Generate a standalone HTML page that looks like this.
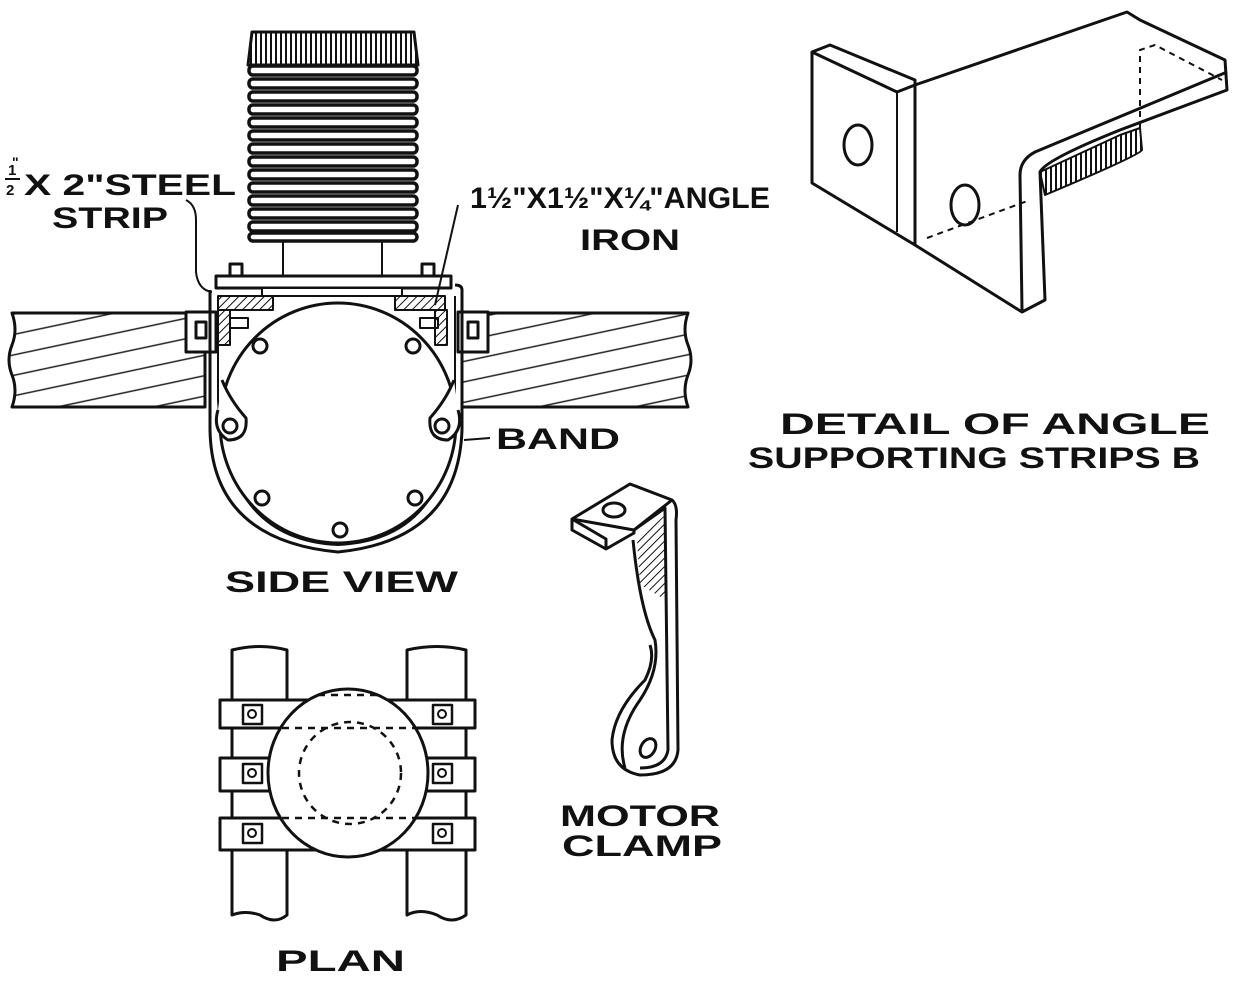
<!DOCTYPE html>
<html><head><meta charset="utf-8"><style>
html,body{margin:0;padding:0;background:#fff}
svg{display:block}
text{font-family:"Liberation Sans",sans-serif;font-weight:bold;fill:#111}
</style></head><body>
<svg width="1243" height="981" viewBox="0 0 1243 981" xmlns="http://www.w3.org/2000/svg">
<defs>
<pattern id="wood" width="40" height="20" patternUnits="userSpaceOnUse" patternTransform="rotate(-12)">
<line x1="0" y1="10" x2="40" y2="10" stroke="#222" stroke-width="1.6"/></pattern>
<pattern id="hatch" width="6" height="6" patternUnits="userSpaceOnUse" patternTransform="rotate(45)">
<line x1="0" y1="0" x2="0" y2="6" stroke="#111" stroke-width="2"/></pattern>
<pattern id="vh" width="5" height="10" patternUnits="userSpaceOnUse">
<line x1="1" y1="0" x2="1" y2="10" stroke="#111" stroke-width="2"/></pattern>
</defs>
<g stroke="#111" stroke-width="3" fill="none" stroke-linejoin="round">
<path d="M12,313 L205,313 L205,407 L12,407 Q18,390 12,375 Q6,360 12,345 Q18,330 12,313Z" fill="url(#wood)"/>
<path d="M462,313 L688,313 Q682,330 688,345 Q694,360 688,375 Q682,390 688,407 L462,407Z" fill="url(#wood)"/>
<rect x="186" y="312" width="30" height="40" fill="#fff"/>
<rect x="196" y="322" width="10" height="16"/>
<rect x="458" y="312" width="30" height="40" fill="#fff"/>
<rect x="468" y="322" width="10" height="16"/>
<path d="M252,32 L414,32 L418,65 L248,65Z" fill="url(#vh)"/>
<g stroke-width="3.5">
<rect x="249" y="66" width="168" height="9" rx="4"/><rect x="249" y="79" width="168" height="9" rx="4"/>
<rect x="249" y="92" width="168" height="9" rx="4"/><rect x="249" y="105" width="168" height="9" rx="4"/>
<rect x="249" y="118" width="168" height="9" rx="4"/><rect x="249" y="131" width="168" height="9" rx="4"/>
<rect x="249" y="144" width="168" height="9" rx="4"/><rect x="249" y="157" width="168" height="9" rx="4"/>
<rect x="249" y="170" width="168" height="9" rx="4"/><rect x="249" y="183" width="168" height="9" rx="4"/>
<rect x="249" y="196" width="168" height="9" rx="4"/><rect x="249" y="209" width="168" height="9" rx="4"/>
<rect x="249" y="222" width="168" height="9" rx="4"/><rect x="249" y="233" width="168" height="8" rx="4"/>
</g>
<line x1="283" y1="241" x2="283" y2="277" stroke-width="2"/>
<line x1="382" y1="241" x2="382" y2="277" stroke-width="2"/>
<rect x="216" y="276" width="235" height="12" fill="#fff"/>
<rect x="230" y="264" width="12" height="12" fill="#fff"/><rect x="422" y="264" width="12" height="12" fill="#fff"/>
<rect x="262" y="288" width="140" height="8" fill="#fff" stroke-width="2"/>
<rect x="218" y="296" width="55" height="14" fill="url(#hatch)" stroke-width="2"/>
<rect x="395" y="296" width="50" height="14" fill="url(#hatch)" stroke-width="2"/>
<rect x="218" y="310" width="12" height="35" fill="url(#hatch)" stroke-width="2"/>
<rect x="435" y="310" width="12" height="35" fill="url(#hatch)" stroke-width="2"/>
<rect x="230" y="318" width="18" height="10" stroke-width="2"/>
<rect x="420" y="318" width="18" height="10" stroke-width="2"/>
<path d="M210,290 L210,430 Q212,540 338,552 Q458,540 462,430 L462,290 Q462,285 455,285" stroke-width="3"/>
<path d="M218,296 L218,400 Q225,540 338,545 Q452,540 455,400 L455,296" stroke-width="2"/>
<ellipse cx="338" cy="423" rx="118" ry="120" fill="#fff"/>
<path d="M218,410 Q212,430 228,440 Q248,440 246,418 Q230,400 222,380" fill="#fff"/>
<circle cx="230" cy="426" r="7"/>
<path d="M458,410 Q464,430 448,440 Q428,440 430,418 Q446,400 454,380" fill="#fff"/>
<circle cx="442" cy="426" r="7"/>
<circle cx="260" cy="346" r="7" fill="#fff"/><circle cx="413" cy="346" r="7" fill="#fff"/>
<circle cx="262" cy="498" r="7" fill="#fff"/><circle cx="415" cy="498" r="7" fill="#fff"/>
<circle cx="340" cy="530" r="7" fill="#fff"/>
<path d="M186,200 Q196,205 196,220 L196,272 Q198,290 212,292" stroke-width="2"/>
<path d="M458,205 L435,305" stroke-width="2"/>
<path d="M464,440 L490,438" stroke-width="2"/>
<path d="M232,650 Q260,643 287,650 L287,915 Q275,925 260,915 Q245,910 232,915Z"/>
<path d="M407,650 Q437,643 466,650 L466,915 Q452,925 437,915 Q420,908 407,915Z"/>
<rect x="220" y="700" width="255" height="28" fill="#fff"/>
<rect x="220" y="758" width="255" height="33" fill="#fff"/>
<rect x="220" y="818" width="255" height="32" fill="#fff"/>
<rect x="243" y="705" width="19" height="19" stroke-width="2.5"/><circle cx="252" cy="714" r="4" stroke-width="2"/>
<rect x="243" y="764" width="19" height="19" stroke-width="2.5"/><circle cx="252" cy="773" r="4" stroke-width="2"/>
<rect x="243" y="824" width="19" height="19" stroke-width="2.5"/><circle cx="252" cy="833" r="4" stroke-width="2"/>
<rect x="433" y="705" width="19" height="19" stroke-width="2.5"/><circle cx="442" cy="714" r="4" stroke-width="2"/>
<rect x="433" y="764" width="19" height="19" stroke-width="2.5"/><circle cx="442" cy="773" r="4" stroke-width="2"/>
<rect x="433" y="824" width="19" height="19" stroke-width="2.5"/><circle cx="442" cy="833" r="4" stroke-width="2"/>
<ellipse cx="348" cy="773" rx="80" ry="84" fill="#fff"/>
<g stroke-dasharray="7,6" stroke-width="2.5">
<circle cx="350" cy="773" r="51"/>
<line x1="282" y1="728" x2="415" y2="728"/><line x1="282" y1="818" x2="415" y2="818"/>
<line x1="318" y1="695" x2="378" y2="695"/>
</g>
<path d="M572,519 L630,484 L672,500 L634,530 Z" fill="#fff"/>
<path d="M572,519 L572,530 L606,549 L634,533 L634,530 M606,549 L606,539 L572,519" fill="none"/>
<ellipse cx="614" cy="510" rx="11" ry="7"/>
<path d="M672,500 Q678,505 676,520 L678,750 Q676,775 640,775 Q612,770 612,740 Q615,710 645,680 Q655,660 650,645"/>
<path d="M634,530 L665,508 L668,750 Q665,768 640,768 M625,768 Q615,735 640,700 Q660,670 655,640 Q640,610 633,540"/>
<path d="M637,540 L665,515 L665,600 Q650,590 640,585Z" fill="url(#hatch)" stroke="none"/>
<ellipse cx="648" cy="748" rx="7" ry="10" transform="rotate(30 648 748)"/>
<path d="M812,52 L830,45 L915,80 L915,245 L812,183Z" fill="#fff"/>
<path d="M812,52 L897,92 L915,85"/>
<path d="M897,92 L897,232" stroke-width="2"/>
<path d="M915,85 L1127,12 L1140,20 L1225,60 L1227,90 L1120,130 Q1045,160 1040,172 L1045,300 L1022,312 L915,245 Z" fill="#fff"/>
<path d="M1227,72 L1035,152 Q1020,160 1020,175 L1022,310"/>
<path d="M1040,172 L1120,135 L1140,128 L1142,150 Q1140,155 1045,195Z" fill="url(#vh)" stroke-width="2"/>
<g stroke-dasharray="6,5" stroke-width="2">
<path d="M1140,128 L1140,50 L1155,45 L1222,80"/>
<path d="M927,238 L1030,200"/>
</g>
<ellipse cx="858" cy="145" rx="14" ry="20" stroke-width="3"/>
<ellipse cx="965" cy="205" rx="14" ry="20" stroke-width="3"/>
</g>
<g font-size="30">
<text x="8" y="175" font-size="15">1</text>
<line x1="5" y1="179" x2="20" y2="179" stroke="#111" stroke-width="2"/>
<text x="6" y="195" font-size="15">2</text>
<text x="12" y="167" font-size="14">"</text>
<text x="24" y="195" textLength="212" lengthAdjust="spacingAndGlyphs">X 2"STEEL</text>
<text x="52" y="228" textLength="116" lengthAdjust="spacingAndGlyphs">STRIP</text>
<text x="470" y="208" textLength="300" lengthAdjust="spacingAndGlyphs">1½"X1½"X¼"ANGLE</text>
<text x="580" y="250" textLength="100" lengthAdjust="spacingAndGlyphs">IRON</text>
<text x="496" y="449" textLength="124" lengthAdjust="spacingAndGlyphs">BAND</text>
<text x="225" y="592" textLength="233" lengthAdjust="spacingAndGlyphs">SIDE VIEW</text>
<text x="276" y="971" textLength="129" lengthAdjust="spacingAndGlyphs">PLAN</text>
<text x="560" y="826" textLength="160" lengthAdjust="spacingAndGlyphs">MOTOR</text>
<text x="562" y="856" textLength="160" lengthAdjust="spacingAndGlyphs">CLAMP</text>
<text x="780" y="434" textLength="430" lengthAdjust="spacingAndGlyphs">DETAIL OF ANGLE</text>
<text x="748" y="468" textLength="452" lengthAdjust="spacingAndGlyphs">SUPPORTING STRIPS B</text>
</g>
</svg>
</body></html>
